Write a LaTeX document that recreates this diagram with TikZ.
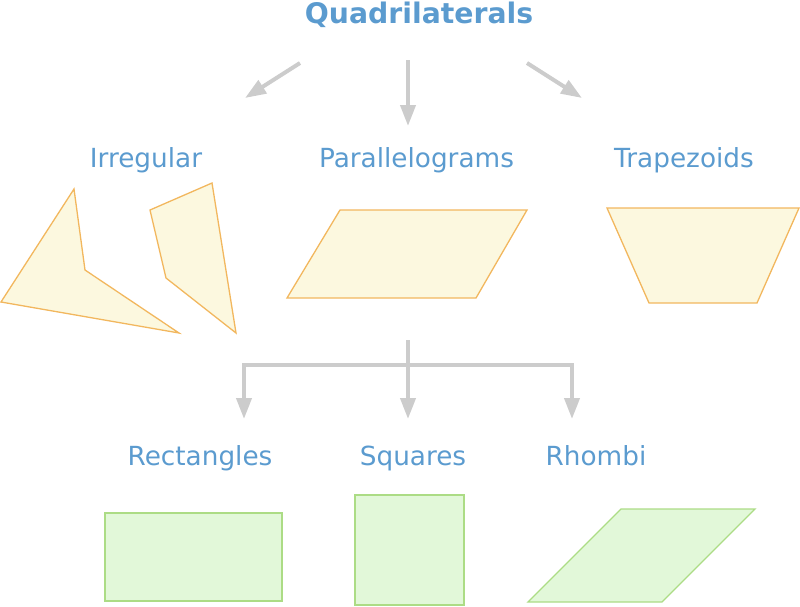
\documentclass[tikz,border=0pt]{standalone}
\usepackage{fontspec}
\setmainfont{DejaVu Sans}
\usetikzlibrary{arrows.meta}
\definecolor{txtblue}{HTML}{5B9BCF}
\definecolor{arrgray}{HTML}{CCCCCC}
\definecolor{yfill}{HTML}{FCF8DF}
\definecolor{ydraw}{HTML}{F2B75E}
\definecolor{gfill}{HTML}{E2F8D9}
\definecolor{gdraw}{HTML}{ACDC85}
\tikzset{
  lbl/.style={text=txtblue, font=\fontsize{26.3}{30}\selectfont, anchor=base, inner sep=0pt},
  ttl/.style={text=txtblue, font=\fontsize{28.3}{33}\selectfont\bfseries, anchor=base, inner sep=0pt},
  conn/.style={draw=arrgray, line width=4pt},
  arr/.style={conn, -{Triangle[length=21pt,width=15pt]}},
  yshape/.style={fill=yfill, draw=ydraw, line width=1.3pt, line join=miter},
  gshape/.style={fill=gfill, draw=gdraw, line width=1.3pt, line join=miter},
}
\begin{document}
\begin{tikzpicture}[x=1pt,y=-1pt]
\useasboundingbox (0,0) rectangle (800,606);
% title and labels
\node[ttl] (title) at (419,23) {Quadrilaterals};
\node[lbl] (irr) at (146,167) {Irregular};
\node[lbl] (par) at (416.5,167) {Parallelograms};
\node[lbl] (tra) at (684,167) {Trapezoids};
\node[lbl] (rec) at (200,465) {Rectangles};
\node[lbl] (squ) at (413,465) {Squares};
\node[lbl] (rho) at (596,465) {Rhombi};
% top arrows
\coordinate (a1s) at (300,63);  \coordinate (a1e) at (245,98);
\coordinate (a2s) at (408,60);  \coordinate (a2e) at (408,126);
\coordinate (a3s) at (527,63);  \coordinate (a3e) at (582,98);
\draw[arr] (a1s) -- (a1e);
\draw[arr] (a2s) -- (a2e);
\draw[arr] (a3s) -- (a3e);
% tree
\coordinate (ts) at (408,340);
\coordinate (tj) at (408,365);
\coordinate (b1) at (244,419);
\coordinate (b2) at (408,419);
\coordinate (b3) at (572,419);
\draw[conn] (ts) -- (tj);
\draw[arr] (tj) -| (b1);
\draw[arr] (tj) -| (b3);
\draw[arr] (tj) -- (b2);
% irregular shapes
\draw[yshape] (74,189) -- (85,270) -- (179,333) -- (1,302) -- cycle;
\draw[yshape] (150,210) -- (212,183) -- (236,333) -- (166,278) -- cycle;
% parallelogram
\draw[yshape] (340,210) -- (527,210) -- (476,298) -- (287,298) -- cycle;
% trapezoid
\draw[yshape] (607,208) -- (799,208) -- (757,303) -- (649,303) -- cycle;
% rectangle, square, rhombus
\draw[gshape] (105,513) rectangle (282,601);
\draw[gshape] (355,495) rectangle (464,605);
\draw[gshape] (621,509) -- (755,509) -- (662,602) -- (528,602) -- cycle;
\end{tikzpicture}
\end{document}
